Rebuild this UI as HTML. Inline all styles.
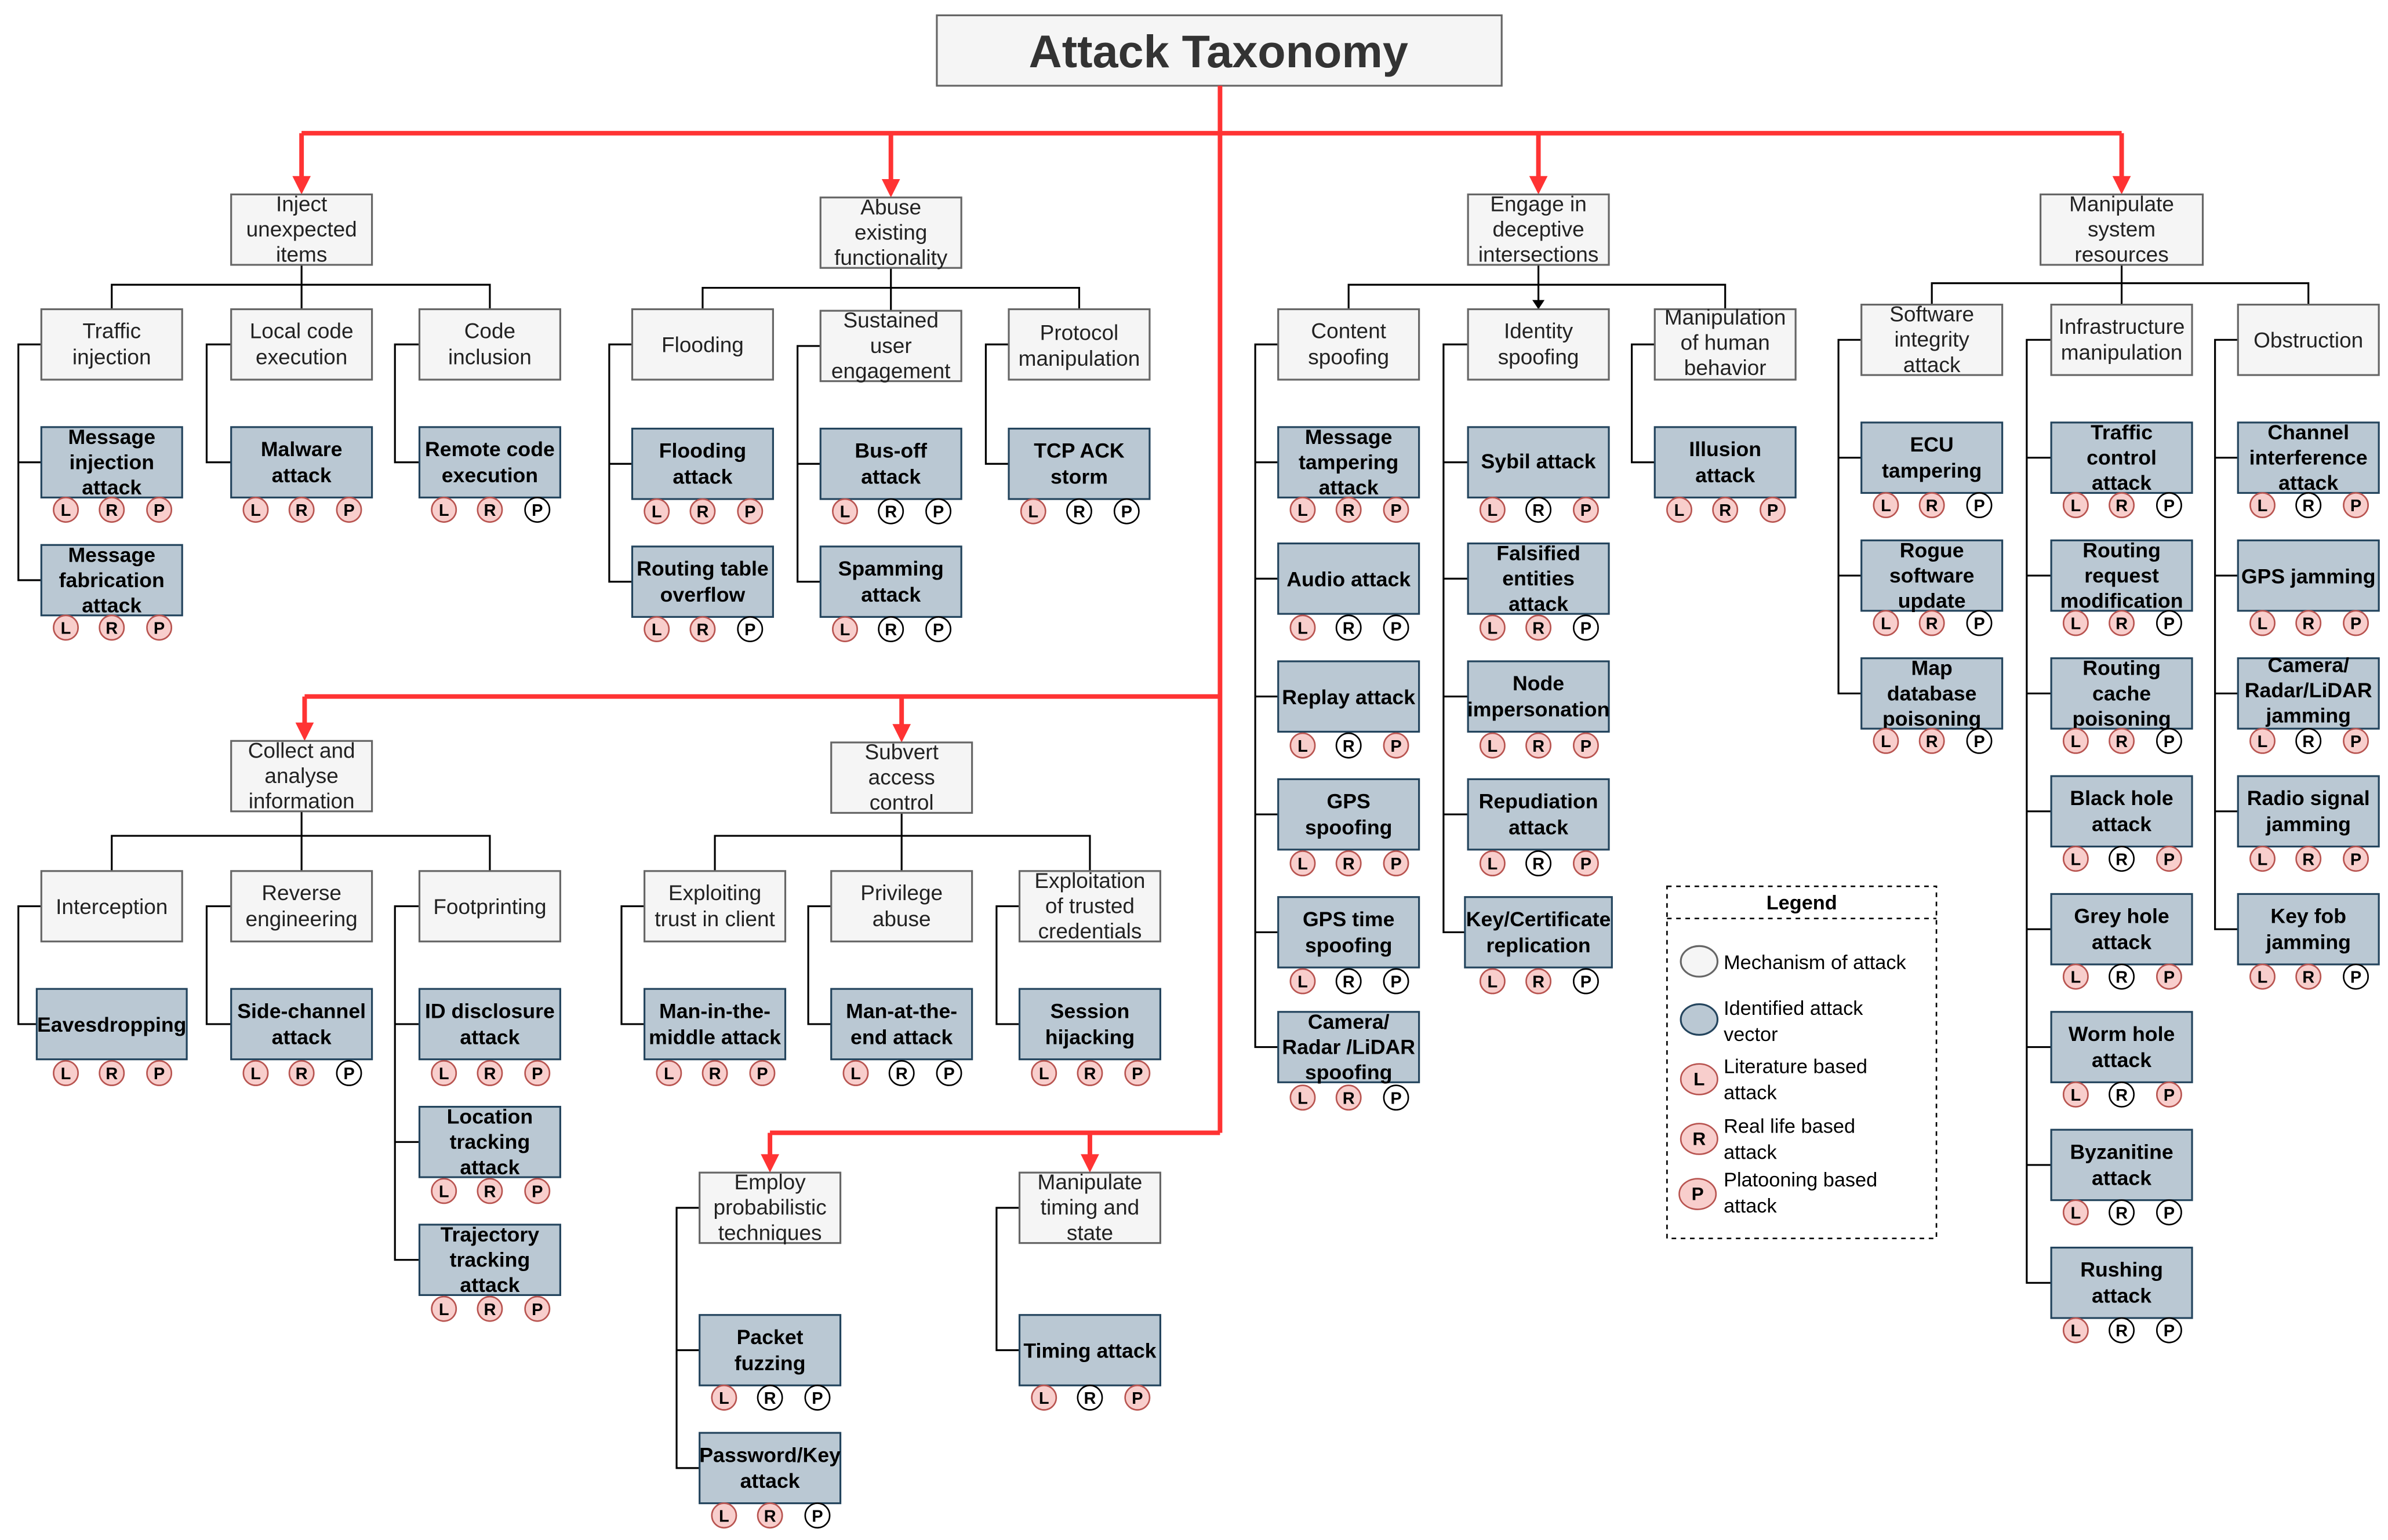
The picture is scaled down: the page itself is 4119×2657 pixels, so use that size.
<!DOCTYPE html>
<html><head><meta charset="utf-8"><style>
html,body{margin:0;padding:0;background:#fff}
svg{display:block}
.g{fill:#f5f5f5;stroke:#666;stroke-width:1.2}
.b{fill:#bac8d3;stroke:#23445d;stroke-width:1.2}
.p{fill:#f8cecc;stroke:#b85450;stroke-width:1}
.w{fill:#fff;stroke:#000;stroke-width:1}
text{font-family:"Liberation Sans",Arial,sans-serif;text-anchor:middle}
.gt{font-size:14px;fill:#222}
.bt{font-size:13.5px;font-weight:bold;fill:#000}
.bd text{font-size:11px;font-weight:bold;fill:#000}
.ln{fill:none;stroke:#000;stroke-width:1.2}
.rd{fill:none;stroke:#ff3333;stroke-width:3}
.ar{fill:#ff3333}
</style></head><body>
<svg width="4119" height="2657" viewBox="0 0 1560 1006" preserveAspectRatio="none" xmlns="http://www.w3.org/2000/svg">
<rect width="1560" height="1006" fill="#fff"/>
<!-- title -->
<rect x="612" y="10" width="369" height="46" class="g"/>
<text x="796" y="44" style="font-size:30px;font-weight:bold;fill:#333">Attack Taxonomy</text>
<!-- red lines -->
<path class="rd" d="M797 56V740M197 87H1386M197 87V118M582 87V120M1005 87V118M1386 87V118M199 455H797M199 455V475M589 455V476M503 740H797M503 740V757M712 740V757"/>
<polygon class="ar" points="191,115 203,115 197,127"/>
<polygon class="ar" points="576,117 588,117 582,129"/>
<polygon class="ar" points="999,115 1011,115 1005,127"/>
<polygon class="ar" points="1380,115 1392,115 1386,127"/>
<polygon class="ar" points="193,472 205,472 199,484"/>
<polygon class="ar" points="583,473 595,473 589,485"/>
<polygon class="ar" points="497,754 509,754 503,766"/>
<polygon class="ar" points="706,754 718,754 712,766"/>
<!-- black connectors -->
<path class="ln" d="M197 173V186M73 202V186H320V202M197 186V202
M27 225H12V379H27M12 302H27M151 225H135V302H151M274 225H258V302H274
M582 175V188M459 202V188H705V202M582 188V203
M413 225H398V380H413M398 303H413M536 226H521V380H536M521 303H536M659 225H644V303H659
M1005 173V186M881 202V186H1127V202M1005 186V202
M835 225H820V684H835M820 302H835M820 378H835M820 455H835M820 532H835M820 609H835
M959 225H943V609H959M943 302H959M943 378H959M943 455H959M943 532H959
M1081 225H1066V302H1081
M1386 173V185M1262 199V185H1508V199M1386 185V199
M1216 222H1201V453H1216M1201 299H1216M1201 376H1216
M1340 222H1324V838H1340M1324 299H1340M1324 376H1340M1324 453H1340M1324 530H1340M1324 607H1340M1324 684H1340M1324 761H1340
M1462 222H1447V607H1462M1447 299H1462M1447 376H1462M1447 453H1462M1447 530H1462
M197 530V546M73 569V546H320V569M197 546V569
M27 592H12V669H27M151 592H135V669H151M274 592H258V823H274M258 669H274M258 746H274
M589 531V546M467 569V546H712V569M589 546V569
M421 592H406V669H421M543 592H528V669H543M666 592H651V669H666
M457 789H442V959H457M442 882H457M666 789H651V882H666"/>
<polygon points="1001,196 1009,196 1005,202" fill="#000"/>

<!-- parent boxes -->
<rect x="151" y="127" width="92" height="46" class="g"/><text class="gt" x="197"><tspan x="197" y="138">Inject</tspan><tspan x="197" y="154.5">unexpected</tspan><tspan x="197" y="171">items</tspan></text>
<rect x="536" y="129" width="92" height="46" class="g"/><text class="gt"><tspan x="582" y="140">Abuse</tspan><tspan x="582" y="156.5">existing</tspan><tspan x="582" y="173">functionality</tspan></text>
<rect x="959" y="127" width="92" height="46" class="g"/><text class="gt"><tspan x="1005" y="138">Engage in</tspan><tspan x="1005" y="154.5">deceptive</tspan><tspan x="1005" y="171">intersections</tspan></text>
<rect x="1333" y="127" width="106" height="46" class="g"/><text class="gt"><tspan x="1386" y="138">Manipulate</tspan><tspan x="1386" y="154.5">system</tspan><tspan x="1386" y="171">resources</tspan></text>
<rect x="151" y="484" width="92" height="46" class="g"/><text class="gt"><tspan x="197" y="495">Collect and</tspan><tspan x="197" y="511.5">analyse</tspan><tspan x="197" y="528">information</tspan></text>
<rect x="543" y="485" width="92" height="46" class="g"/><text class="gt"><tspan x="589" y="496">Subvert</tspan><tspan x="589" y="512.5">access</tspan><tspan x="589" y="529">control</tspan></text>
<rect x="457" y="766" width="92" height="46" class="g"/><text class="gt"><tspan x="503" y="777">Employ</tspan><tspan x="503" y="793.5">probabilistic</tspan><tspan x="503" y="810">techniques</tspan></text>
<rect x="666" y="766" width="92" height="46" class="g"/><text class="gt"><tspan x="712" y="777">Manipulate</tspan><tspan x="712" y="793.5">timing and</tspan><tspan x="712" y="810">state</tspan></text>

<!-- mechanism boxes -->
<rect x="27" y="202" width="92" height="46" class="g"/><text class="gt"><tspan x="73" y="221">Traffic</tspan><tspan x="73" y="238">injection</tspan></text>
<rect x="151" y="202" width="92" height="46" class="g"/><text class="gt"><tspan x="197" y="221">Local code</tspan><tspan x="197" y="238">execution</tspan></text>
<rect x="274" y="202" width="92" height="46" class="g"/><text class="gt"><tspan x="320" y="221">Code</tspan><tspan x="320" y="238">inclusion</tspan></text>
<rect x="413" y="202" width="92" height="46" class="g"/><text class="gt" x="459" y="230">Flooding</text>
<rect x="536" y="203" width="92" height="46" class="g"/><text class="gt"><tspan x="582" y="214">Sustained</tspan><tspan x="582" y="230.5">user</tspan><tspan x="582" y="247">engagement</tspan></text>
<rect x="659" y="202" width="92" height="46" class="g"/><text class="gt"><tspan x="705" y="222">Protocol</tspan><tspan x="705" y="239">manipulation</tspan></text>
<rect x="835" y="202" width="92" height="46" class="g"/><text class="gt"><tspan x="881" y="221">Content</tspan><tspan x="881" y="238">spoofing</tspan></text>
<rect x="959" y="202" width="92" height="46" class="g"/><text class="gt"><tspan x="1005" y="221">Identity</tspan><tspan x="1005" y="238">spoofing</tspan></text>
<rect x="1081" y="202" width="92" height="46" class="g"/><text class="gt"><tspan x="1127" y="212">Manipulation</tspan><tspan x="1127" y="228.5">of human</tspan><tspan x="1127" y="245">behavior</tspan></text>
<rect x="1216" y="199" width="92" height="46" class="g"/><text class="gt"><tspan x="1262" y="210">Software</tspan><tspan x="1262" y="226.5">integrity</tspan><tspan x="1262" y="243">attack</tspan></text>
<rect x="1340" y="199" width="92" height="46" class="g"/><text class="gt"><tspan x="1386" y="218">Infrastructure</tspan><tspan x="1386" y="235">manipulation</tspan></text>
<rect x="1462" y="199" width="92" height="46" class="g"/><text class="gt" x="1508" y="227">Obstruction</text>
<rect x="27" y="569" width="92" height="46" class="g"/><text class="gt" x="73" y="597">Interception</text>
<rect x="151" y="569" width="92" height="46" class="g"/><text class="gt"><tspan x="197" y="588">Reverse</tspan><tspan x="197" y="605">engineering</tspan></text>
<rect x="274" y="569" width="92" height="46" class="g"/><text class="gt" x="320" y="597">Footprinting</text>
<rect x="421" y="569" width="92" height="46" class="g"/><text class="gt"><tspan x="467" y="588">Exploiting</tspan><tspan x="467" y="605">trust in client</tspan></text>
<rect x="543" y="569" width="92" height="46" class="g"/><text class="gt"><tspan x="589" y="588">Privilege</tspan><tspan x="589" y="605">abuse</tspan></text>
<rect x="666" y="569" width="92" height="46" class="g"/><text class="gt"><tspan x="712" y="580">Exploitation</tspan><tspan x="712" y="596.5">of trusted</tspan><tspan x="712" y="613">credentials</tspan></text>

<!-- attack boxes -->
<rect x="27" y="279" width="92" height="46" class="b"/><text class="bt"><tspan x="73" y="290">Message</tspan><tspan x="73" y="306.5">injection</tspan><tspan x="73" y="323">attack</tspan></text>
<g class="bd" transform="translate(73,333)"><circle cx="-30" r="8" class="p"/><text x="-30" y="4">L</text><circle cx="0" r="8" class="p"/><text x="0" y="4">R</text><circle cx="31" r="8" class="p"/><text x="31" y="4">P</text></g>
<rect x="27" y="356" width="92" height="46" class="b"/><text class="bt"><tspan x="73" y="367">Message</tspan><tspan x="73" y="383.5">fabrication</tspan><tspan x="73" y="400">attack</tspan></text>
<g class="bd" transform="translate(73,410)"><circle cx="-30" r="8" class="p"/><text x="-30" y="4">L</text><circle cx="0" r="8" class="p"/><text x="0" y="4">R</text><circle cx="31" r="8" class="p"/><text x="31" y="4">P</text></g>
<rect x="151" y="279" width="92" height="46" class="b"/><text class="bt"><tspan x="197" y="298">Malware</tspan><tspan x="197" y="315">attack</tspan></text>
<g class="bd" transform="translate(197,333)"><circle cx="-30" r="8" class="p"/><text x="-30" y="4">L</text><circle cx="0" r="8" class="p"/><text x="0" y="4">R</text><circle cx="31" r="8" class="p"/><text x="31" y="4">P</text></g>
<rect x="274" y="279" width="92" height="46" class="b"/><text class="bt"><tspan x="320" y="298">Remote code</tspan><tspan x="320" y="315">execution</tspan></text>
<g class="bd" transform="translate(320,333)"><circle cx="-30" r="8" class="p"/><text x="-30" y="4">L</text><circle cx="0" r="8" class="p"/><text x="0" y="4">R</text><circle cx="31" r="8" class="w"/><text x="31" y="4">P</text></g>

<rect x="413" y="280" width="92" height="46" class="b"/><text class="bt"><tspan x="459" y="299">Flooding</tspan><tspan x="459" y="316">attack</tspan></text>
<g class="bd" transform="translate(459,334)"><circle cx="-30" r="8" class="p"/><text x="-30" y="4">L</text><circle cx="0" r="8" class="p"/><text x="0" y="4">R</text><circle cx="31" r="8" class="p"/><text x="31" y="4">P</text></g>
<rect x="413" y="357" width="92" height="46" class="b"/><text class="bt"><tspan x="459" y="376">Routing table</tspan><tspan x="459" y="393">overflow</tspan></text>
<g class="bd" transform="translate(459,411)"><circle cx="-30" r="8" class="p"/><text x="-30" y="4">L</text><circle cx="0" r="8" class="p"/><text x="0" y="4">R</text><circle cx="31" r="8" class="w"/><text x="31" y="4">P</text></g>
<rect x="536" y="280" width="92" height="46" class="b"/><text class="bt"><tspan x="582" y="299">Bus-off</tspan><tspan x="582" y="316">attack</tspan></text>
<g class="bd" transform="translate(582,334)"><circle cx="-30" r="8" class="p"/><text x="-30" y="4">L</text><circle cx="0" r="8" class="w"/><text x="0" y="4">R</text><circle cx="31" r="8" class="w"/><text x="31" y="4">P</text></g>
<rect x="536" y="357" width="92" height="46" class="b"/><text class="bt"><tspan x="582" y="376">Spamming</tspan><tspan x="582" y="393">attack</tspan></text>
<g class="bd" transform="translate(582,411)"><circle cx="-30" r="8" class="p"/><text x="-30" y="4">L</text><circle cx="0" r="8" class="w"/><text x="0" y="4">R</text><circle cx="31" r="8" class="w"/><text x="31" y="4">P</text></g>
<rect x="659" y="280" width="92" height="46" class="b"/><text class="bt"><tspan x="705" y="299">TCP ACK</tspan><tspan x="705" y="316">storm</tspan></text>
<g class="bd" transform="translate(705,334)"><circle cx="-30" r="8" class="p"/><text x="-30" y="4">L</text><circle cx="0" r="8" class="w"/><text x="0" y="4">R</text><circle cx="31" r="8" class="w"/><text x="31" y="4">P</text></g>

<rect x="835" y="279" width="92" height="46" class="b"/><text class="bt"><tspan x="881" y="290">Message</tspan><tspan x="881" y="306.5">tampering</tspan><tspan x="881" y="323">attack</tspan></text>
<g class="bd" transform="translate(881,333)"><circle cx="-30" r="8" class="p"/><text x="-30" y="4">L</text><circle cx="0" r="8" class="p"/><text x="0" y="4">R</text><circle cx="31" r="8" class="p"/><text x="31" y="4">P</text></g>
<rect x="835" y="355" width="92" height="46" class="b"/><text class="bt" x="881" y="383">Audio attack</text>
<g class="bd" transform="translate(881,410)"><circle cx="-30" r="8" class="p"/><text x="-30" y="4">L</text><circle cx="0" r="8" class="w"/><text x="0" y="4">R</text><circle cx="31" r="8" class="w"/><text x="31" y="4">P</text></g>
<rect x="835" y="432" width="92" height="46" class="b"/><text class="bt" x="881" y="460">Replay attack</text>
<g class="bd" transform="translate(881,487)"><circle cx="-30" r="8" class="p"/><text x="-30" y="4">L</text><circle cx="0" r="8" class="w"/><text x="0" y="4">R</text><circle cx="31" r="8" class="p"/><text x="31" y="4">P</text></g>
<rect x="835" y="509" width="92" height="46" class="b"/><text class="bt"><tspan x="881" y="528">GPS</tspan><tspan x="881" y="545">spoofing</tspan></text>
<g class="bd" transform="translate(881,564)"><circle cx="-30" r="8" class="p"/><text x="-30" y="4">L</text><circle cx="0" r="8" class="p"/><text x="0" y="4">R</text><circle cx="31" r="8" class="p"/><text x="31" y="4">P</text></g>
<rect x="835" y="586" width="92" height="46" class="b"/><text class="bt"><tspan x="881" y="605">GPS time</tspan><tspan x="881" y="622">spoofing</tspan></text>
<g class="bd" transform="translate(881,641)"><circle cx="-30" r="8" class="p"/><text x="-30" y="4">L</text><circle cx="0" r="8" class="w"/><text x="0" y="4">R</text><circle cx="31" r="8" class="w"/><text x="31" y="4">P</text></g>
<rect x="835" y="661" width="92" height="46" class="b"/><text class="bt"><tspan x="881" y="672">Camera/</tspan><tspan x="881" y="688.5">Radar /LiDAR</tspan><tspan x="881" y="705">spoofing</tspan></text>
<g class="bd" transform="translate(881,717)"><circle cx="-30" r="8" class="p"/><text x="-30" y="4">L</text><circle cx="0" r="8" class="p"/><text x="0" y="4">R</text><circle cx="31" r="8" class="w"/><text x="31" y="4">P</text></g>

<rect x="959" y="279" width="92" height="46" class="b"/><text class="bt" x="1005" y="306">Sybil attack</text>
<g class="bd" transform="translate(1005,333)"><circle cx="-30" r="8" class="p"/><text x="-30" y="4">L</text><circle cx="0" r="8" class="w"/><text x="0" y="4">R</text><circle cx="31" r="8" class="p"/><text x="31" y="4">P</text></g>
<rect x="959" y="355" width="92" height="46" class="b"/><text class="bt"><tspan x="1005" y="366">Falsified</tspan><tspan x="1005" y="382.5">entities</tspan><tspan x="1005" y="399">attack</tspan></text>
<g class="bd" transform="translate(1005,410)"><circle cx="-30" r="8" class="p"/><text x="-30" y="4">L</text><circle cx="0" r="8" class="p"/><text x="0" y="4">R</text><circle cx="31" r="8" class="w"/><text x="31" y="4">P</text></g>
<rect x="959" y="432" width="92" height="46" class="b"/><text class="bt"><tspan x="1005" y="451">Node</tspan><tspan x="1005" y="468">impersonation</tspan></text>
<g class="bd" transform="translate(1005,487)"><circle cx="-30" r="8" class="p"/><text x="-30" y="4">L</text><circle cx="0" r="8" class="p"/><text x="0" y="4">R</text><circle cx="31" r="8" class="p"/><text x="31" y="4">P</text></g>
<rect x="959" y="509" width="92" height="46" class="b"/><text class="bt"><tspan x="1005" y="528">Repudiation</tspan><tspan x="1005" y="545">attack</tspan></text>
<g class="bd" transform="translate(1005,564)"><circle cx="-30" r="8" class="p"/><text x="-30" y="4">L</text><circle cx="0" r="8" class="w"/><text x="0" y="4">R</text><circle cx="31" r="8" class="p"/><text x="31" y="4">P</text></g>
<rect x="957" y="586" width="96" height="46" class="b"/><text class="bt"><tspan x="1005" y="605">Key/Certificate</tspan><tspan x="1005" y="622">replication</tspan></text>
<g class="bd" transform="translate(1005,641)"><circle cx="-30" r="8" class="p"/><text x="-30" y="4">L</text><circle cx="0" r="8" class="p"/><text x="0" y="4">R</text><circle cx="31" r="8" class="w"/><text x="31" y="4">P</text></g>

<rect x="1081" y="279" width="92" height="46" class="b"/><text class="bt"><tspan x="1127" y="298">Illusion</tspan><tspan x="1127" y="315">attack</tspan></text>
<g class="bd" transform="translate(1127,333)"><circle cx="-30" r="8" class="p"/><text x="-30" y="4">L</text><circle cx="0" r="8" class="p"/><text x="0" y="4">R</text><circle cx="31" r="8" class="p"/><text x="31" y="4">P</text></g>

<rect x="1216" y="276" width="92" height="46" class="b"/><text class="bt"><tspan x="1262" y="295">ECU</tspan><tspan x="1262" y="312">tampering</tspan></text>
<g class="bd" transform="translate(1262,330)"><circle cx="-30" r="8" class="p"/><text x="-30" y="4">L</text><circle cx="0" r="8" class="p"/><text x="0" y="4">R</text><circle cx="31" r="8" class="w"/><text x="31" y="4">P</text></g>
<rect x="1216" y="353" width="92" height="46" class="b"/><text class="bt"><tspan x="1262" y="364">Rogue</tspan><tspan x="1262" y="380.5">software</tspan><tspan x="1262" y="397">update</tspan></text>
<g class="bd" transform="translate(1262,407)"><circle cx="-30" r="8" class="p"/><text x="-30" y="4">L</text><circle cx="0" r="8" class="p"/><text x="0" y="4">R</text><circle cx="31" r="8" class="w"/><text x="31" y="4">P</text></g>
<rect x="1216" y="430" width="92" height="46" class="b"/><text class="bt"><tspan x="1262" y="441">Map</tspan><tspan x="1262" y="457.5">database</tspan><tspan x="1262" y="474">poisoning</tspan></text>
<g class="bd" transform="translate(1262,484)"><circle cx="-30" r="8" class="p"/><text x="-30" y="4">L</text><circle cx="0" r="8" class="p"/><text x="0" y="4">R</text><circle cx="31" r="8" class="w"/><text x="31" y="4">P</text></g>

<rect x="1340" y="276" width="92" height="46" class="b"/><text class="bt"><tspan x="1386" y="287">Traffic</tspan><tspan x="1386" y="303.5">control</tspan><tspan x="1386" y="320">attack</tspan></text>
<g class="bd" transform="translate(1386,330)"><circle cx="-30" r="8" class="p"/><text x="-30" y="4">L</text><circle cx="0" r="8" class="p"/><text x="0" y="4">R</text><circle cx="31" r="8" class="w"/><text x="31" y="4">P</text></g>
<rect x="1340" y="353" width="92" height="46" class="b"/><text class="bt"><tspan x="1386" y="364">Routing</tspan><tspan x="1386" y="380.5">request</tspan><tspan x="1386" y="397">modification</tspan></text>
<g class="bd" transform="translate(1386,407)"><circle cx="-30" r="8" class="p"/><text x="-30" y="4">L</text><circle cx="0" r="8" class="p"/><text x="0" y="4">R</text><circle cx="31" r="8" class="w"/><text x="31" y="4">P</text></g>
<rect x="1340" y="430" width="92" height="46" class="b"/><text class="bt"><tspan x="1386" y="441">Routing</tspan><tspan x="1386" y="457.5">cache</tspan><tspan x="1386" y="474">poisoning</tspan></text>
<g class="bd" transform="translate(1386,484)"><circle cx="-30" r="8" class="p"/><text x="-30" y="4">L</text><circle cx="0" r="8" class="p"/><text x="0" y="4">R</text><circle cx="31" r="8" class="w"/><text x="31" y="4">P</text></g>
<rect x="1340" y="507" width="92" height="46" class="b"/><text class="bt"><tspan x="1386" y="526">Black hole</tspan><tspan x="1386" y="543">attack</tspan></text>
<g class="bd" transform="translate(1386,561)"><circle cx="-30" r="8" class="p"/><text x="-30" y="4">L</text><circle cx="0" r="8" class="w"/><text x="0" y="4">R</text><circle cx="31" r="8" class="p"/><text x="31" y="4">P</text></g>
<rect x="1340" y="584" width="92" height="46" class="b"/><text class="bt"><tspan x="1386" y="603">Grey hole</tspan><tspan x="1386" y="620">attack</tspan></text>
<g class="bd" transform="translate(1386,638)"><circle cx="-30" r="8" class="p"/><text x="-30" y="4">L</text><circle cx="0" r="8" class="w"/><text x="0" y="4">R</text><circle cx="31" r="8" class="p"/><text x="31" y="4">P</text></g>
<rect x="1340" y="661" width="92" height="46" class="b"/><text class="bt"><tspan x="1386" y="680">Worm hole</tspan><tspan x="1386" y="697">attack</tspan></text>
<g class="bd" transform="translate(1386,715)"><circle cx="-30" r="8" class="p"/><text x="-30" y="4">L</text><circle cx="0" r="8" class="w"/><text x="0" y="4">R</text><circle cx="31" r="8" class="p"/><text x="31" y="4">P</text></g>
<rect x="1340" y="738" width="92" height="46" class="b"/><text class="bt"><tspan x="1386" y="757">Byzanitine</tspan><tspan x="1386" y="774">attack</tspan></text>
<g class="bd" transform="translate(1386,792)"><circle cx="-30" r="8" class="p"/><text x="-30" y="4">L</text><circle cx="0" r="8" class="w"/><text x="0" y="4">R</text><circle cx="31" r="8" class="w"/><text x="31" y="4">P</text></g>
<rect x="1340" y="815" width="92" height="46" class="b"/><text class="bt"><tspan x="1386" y="834">Rushing</tspan><tspan x="1386" y="851">attack</tspan></text>
<g class="bd" transform="translate(1386,869)"><circle cx="-30" r="8" class="p"/><text x="-30" y="4">L</text><circle cx="0" r="8" class="w"/><text x="0" y="4">R</text><circle cx="31" r="8" class="w"/><text x="31" y="4">P</text></g>

<rect x="1462" y="276" width="92" height="46" class="b"/><text class="bt"><tspan x="1508" y="287">Channel</tspan><tspan x="1508" y="303.5">interference</tspan><tspan x="1508" y="320">attack</tspan></text>
<g class="bd" transform="translate(1508,330)"><circle cx="-30" r="8" class="p"/><text x="-30" y="4">L</text><circle cx="0" r="8" class="w"/><text x="0" y="4">R</text><circle cx="31" r="8" class="p"/><text x="31" y="4">P</text></g>
<rect x="1462" y="353" width="92" height="46" class="b"/><text class="bt" x="1508" y="381">GPS jamming</text>
<g class="bd" transform="translate(1508,407)"><circle cx="-30" r="8" class="p"/><text x="-30" y="4">L</text><circle cx="0" r="8" class="p"/><text x="0" y="4">R</text><circle cx="31" r="8" class="p"/><text x="31" y="4">P</text></g>
<rect x="1462" y="430" width="92" height="46" class="b"/><text class="bt"><tspan x="1508" y="439">Camera/</tspan><tspan x="1508" y="455.5">Radar/LiDAR</tspan><tspan x="1508" y="472">jamming</tspan></text>
<g class="bd" transform="translate(1508,484)"><circle cx="-30" r="8" class="p"/><text x="-30" y="4">L</text><circle cx="0" r="8" class="w"/><text x="0" y="4">R</text><circle cx="31" r="8" class="p"/><text x="31" y="4">P</text></g>
<rect x="1462" y="507" width="92" height="46" class="b"/><text class="bt"><tspan x="1508" y="526">Radio signal</tspan><tspan x="1508" y="543">jamming</tspan></text>
<g class="bd" transform="translate(1508,561)"><circle cx="-30" r="8" class="p"/><text x="-30" y="4">L</text><circle cx="0" r="8" class="p"/><text x="0" y="4">R</text><circle cx="31" r="8" class="p"/><text x="31" y="4">P</text></g>
<rect x="1462" y="584" width="92" height="46" class="b"/><text class="bt"><tspan x="1508" y="603">Key fob</tspan><tspan x="1508" y="620">jamming</tspan></text>
<g class="bd" transform="translate(1508,638)"><circle cx="-30" r="8" class="p"/><text x="-30" y="4">L</text><circle cx="0" r="8" class="p"/><text x="0" y="4">R</text><circle cx="31" r="8" class="w"/><text x="31" y="4">P</text></g>

<rect x="24" y="646" width="98" height="46" class="b"/><text class="bt" x="73" y="674">Eavesdropping</text>
<g class="bd" transform="translate(73,701)"><circle cx="-30" r="8" class="p"/><text x="-30" y="4">L</text><circle cx="0" r="8" class="p"/><text x="0" y="4">R</text><circle cx="31" r="8" class="p"/><text x="31" y="4">P</text></g>
<rect x="151" y="646" width="92" height="46" class="b"/><text class="bt"><tspan x="197" y="665">Side-channel</tspan><tspan x="197" y="682">attack</tspan></text>
<g class="bd" transform="translate(197,701)"><circle cx="-30" r="8" class="p"/><text x="-30" y="4">L</text><circle cx="0" r="8" class="p"/><text x="0" y="4">R</text><circle cx="31" r="8" class="w"/><text x="31" y="4">P</text></g>
<rect x="274" y="646" width="92" height="46" class="b"/><text class="bt"><tspan x="320" y="665">ID disclosure</tspan><tspan x="320" y="682">attack</tspan></text>
<g class="bd" transform="translate(320,701)"><circle cx="-30" r="8" class="p"/><text x="-30" y="4">L</text><circle cx="0" r="8" class="p"/><text x="0" y="4">R</text><circle cx="31" r="8" class="p"/><text x="31" y="4">P</text></g>
<rect x="274" y="723" width="92" height="46" class="b"/><text class="bt"><tspan x="320" y="734">Location</tspan><tspan x="320" y="750.5">tracking</tspan><tspan x="320" y="767">attack</tspan></text>
<g class="bd" transform="translate(320,778)"><circle cx="-30" r="8" class="p"/><text x="-30" y="4">L</text><circle cx="0" r="8" class="p"/><text x="0" y="4">R</text><circle cx="31" r="8" class="p"/><text x="31" y="4">P</text></g>
<rect x="274" y="800" width="92" height="46" class="b"/><text class="bt"><tspan x="320" y="811">Trajectory</tspan><tspan x="320" y="827.5">tracking</tspan><tspan x="320" y="844">attack</tspan></text>
<g class="bd" transform="translate(320,855)"><circle cx="-30" r="8" class="p"/><text x="-30" y="4">L</text><circle cx="0" r="8" class="p"/><text x="0" y="4">R</text><circle cx="31" r="8" class="p"/><text x="31" y="4">P</text></g>

<rect x="421" y="646" width="92" height="46" class="b"/><text class="bt"><tspan x="467" y="665">Man-in-the-</tspan><tspan x="467" y="682">middle attack</tspan></text>
<g class="bd" transform="translate(467,701)"><circle cx="-30" r="8" class="p"/><text x="-30" y="4">L</text><circle cx="0" r="8" class="p"/><text x="0" y="4">R</text><circle cx="31" r="8" class="p"/><text x="31" y="4">P</text></g>
<rect x="543" y="646" width="92" height="46" class="b"/><text class="bt"><tspan x="589" y="665">Man-at-the-</tspan><tspan x="589" y="682">end attack</tspan></text>
<g class="bd" transform="translate(589,701)"><circle cx="-30" r="8" class="p"/><text x="-30" y="4">L</text><circle cx="0" r="8" class="w"/><text x="0" y="4">R</text><circle cx="31" r="8" class="w"/><text x="31" y="4">P</text></g>
<rect x="666" y="646" width="92" height="46" class="b"/><text class="bt"><tspan x="712" y="665">Session</tspan><tspan x="712" y="682">hijacking</tspan></text>
<g class="bd" transform="translate(712,701)"><circle cx="-30" r="8" class="p"/><text x="-30" y="4">L</text><circle cx="0" r="8" class="p"/><text x="0" y="4">R</text><circle cx="31" r="8" class="p"/><text x="31" y="4">P</text></g>

<rect x="457" y="859" width="92" height="46" class="b"/><text class="bt"><tspan x="503" y="878">Packet</tspan><tspan x="503" y="895">fuzzing</tspan></text>
<g class="bd" transform="translate(503,913)"><circle cx="-30" r="8" class="p"/><text x="-30" y="4">L</text><circle cx="0" r="8" class="w"/><text x="0" y="4">R</text><circle cx="31" r="8" class="w"/><text x="31" y="4">P</text></g>
<rect x="457" y="936" width="92" height="46" class="b"/><text class="bt"><tspan x="503" y="955">Password/Key</tspan><tspan x="503" y="972">attack</tspan></text>
<g class="bd" transform="translate(503,990)"><circle cx="-30" r="8" class="p"/><text x="-30" y="4">L</text><circle cx="0" r="8" class="p"/><text x="0" y="4">R</text><circle cx="31" r="8" class="w"/><text x="31" y="4">P</text></g>
<rect x="666" y="859" width="92" height="46" class="b"/><text class="bt" x="712" y="887">Timing attack</text>
<g class="bd" transform="translate(712,913)"><circle cx="-30" r="8" class="p"/><text x="-30" y="4">L</text><circle cx="0" r="8" class="w"/><text x="0" y="4">R</text><circle cx="31" r="8" class="p"/><text x="31" y="4">P</text></g>

<!-- legend -->
<rect x="1089" y="579" width="176" height="230" fill="#fff" stroke="#000" stroke-width="1" stroke-dasharray="3,3"/>
<line x1="1089" y1="600" x2="1265" y2="600" stroke="#000" stroke-width="1" stroke-dasharray="3,3"/>
<text x="1177" y="594" style="font-size:13px;font-weight:bold">Legend</text>
<ellipse cx="1110" cy="628" rx="12" ry="10" class="g"/>
<ellipse cx="1110" cy="666" rx="12" ry="10" class="b"/>
<g class="bd"><ellipse cx="1110" cy="705" rx="12" ry="10" class="p"/><text x="1110" y="709" style="font-size:12px">L</text>
<ellipse cx="1110" cy="744" rx="12" ry="10" class="p"/><text x="1110" y="748" style="font-size:12px">R</text>
<ellipse cx="1109" cy="780" rx="12" ry="10" class="p"/><text x="1109" y="784" style="font-size:12px">P</text></g>
<g style="font-size:13px;fill:#000">
<text x="1126" y="633" style="text-anchor:start">Mechanism of attack</text>
<text style="text-anchor:start"><tspan x="1126" y="663">Identified attack</tspan><tspan x="1126" y="680">vector</tspan></text>
<text style="text-anchor:start"><tspan x="1126" y="701">Literature based</tspan><tspan x="1126" y="718">attack</tspan></text>
<text style="text-anchor:start"><tspan x="1126" y="740">Real life based</tspan><tspan x="1126" y="757">attack</tspan></text>
<text style="text-anchor:start"><tspan x="1126" y="775">Platooning based</tspan><tspan x="1126" y="792">attack</tspan></text>
</g>
</svg>
</body></html>
